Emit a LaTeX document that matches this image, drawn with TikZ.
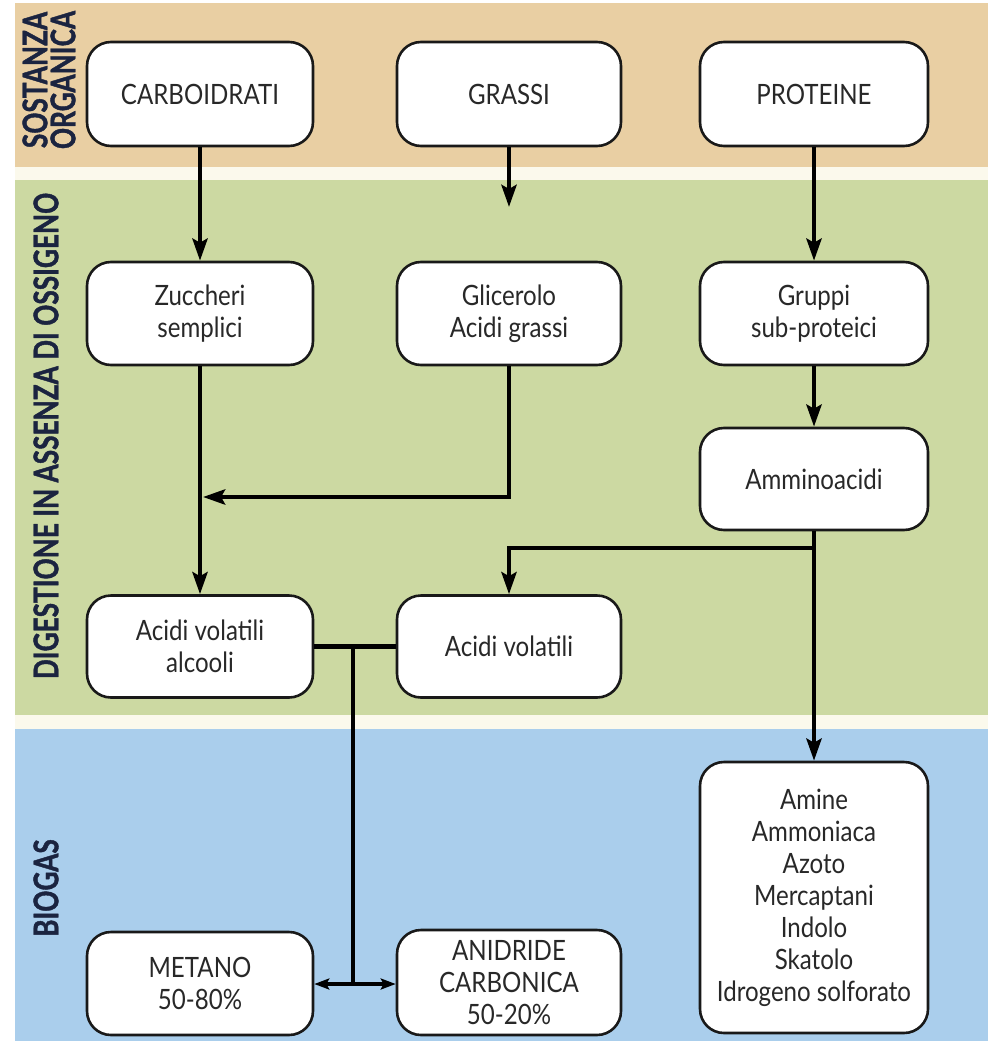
\documentclass[tikz,border=0pt]{standalone}
\usepackage{fontspec}
\setmainfont{Lato}[FakeStretch=0.86]
\newfontfamily\sidefont{Lato}[FakeStretch=0.77, BoldFeatures={FakeBold=1.2}]
\usetikzlibrary{arrows.meta}
\definecolor{tanbg}{RGB}{233,207,163}
\definecolor{greenbg}{RGB}{204,217,162}
\definecolor{bluebg}{RGB}{170,206,236}
\definecolor{stripbg}{RGB}{251,249,236}
\definecolor{navy}{RGB}{27,36,64}
\definecolor{txt}{RGB}{40,40,40}
\tikzset{
  box/.style={draw=black!90, line width=2.6pt, fill=white, rounded corners=24pt,
    inner sep=0pt, align=center, text=txt, font=\fontsize{28}{32}\selectfont},
  conn/.style={line width=4.5pt, black},
  arr/.style={conn, -{Stealth[length=22pt,width=15pt,inset=4pt]}},
  sarr/.style={conn, -{Stealth[length=15pt,width=11pt,inset=3pt]}},
  side/.style={text=navy, font=\sidefont\bfseries\fontsize{34}{28}\selectfont, rotate=90, align=center, inner sep=0pt}
}
\begin{document}
\begin{tikzpicture}[x=1pt,y=-1pt]
\useasboundingbox (0,0) rectangle (988,1041);
\fill[white] (0,0) rectangle (988,1041);
\fill[stripbg] (15,160) rectangle (988,185);
\fill[stripbg] (15,710) rectangle (988,735);
\fill[tanbg] (15,3) rectangle (988,167);
\fill[greenbg] (15,180) rectangle (988,715);
\fill[bluebg] (15,729) rectangle (988,1041);

% side labels
\node[side] (lab1) at (49,80) {SOSTANZA\\ORGANICA};
\node[side] (lab2) at (46,436) {DIGESTIONE IN ASSENZA DI OSSIGENO};
\node[side] (lab3) at (46,888) {BIOGAS};

% row 1
\node[box, minimum width=226pt, minimum height=104pt] (carb) at (200,94) {CARBOIDRATI};
\node[box, minimum width=224pt, minimum height=104pt] (grassi) at (509,94) {GRASSI};
\node[box, minimum width=228pt, minimum height=104pt] (prot) at (814,94) {PROTEINE};
% row 2
\node[box, minimum width=226pt, minimum height=103pt] (zuc) at (200,313.5) {Zuccheri\\semplici};
\node[box, minimum width=224pt, minimum height=103pt] (glic) at (509,313.5) {Glicerolo\\Acidi grassi};
\node[box, minimum width=228pt, minimum height=103pt] (grup) at (814,313.5) {Gruppi\\sub-proteici};
% row 3
\node[box, minimum width=228pt, minimum height=102pt] (ammi) at (814,479) {Amminoacidi};
% row 4
\node[box, minimum width=226pt, minimum height=102pt] (acalc) at (200,646.5) {Acidi volatili\\alcooli};
\node[box, minimum width=224pt, minimum height=102pt] (acvol) at (509,646.5) {Acidi volatili};
% row 5
\node[box, minimum width=228pt, minimum height=271pt] (amine) at (814,897.5) {Amine\\Ammoniaca\\Azoto\\Mercaptani\\Indolo\\Skatolo\\Idrogeno solforato};
\node[box, minimum width=226pt, minimum height=103pt] (metano) at (200,983.5) {METANO\\50-80\%};
\node[box, minimum width=224pt, minimum height=105pt] (anid) at (509,982.5) {ANIDRIDE\\CARBONICA\\50-20\%};

% coordinates
\coordinate (gend) at (509,207);
\coordinate (jl) at (203,497);
\coordinate (ja) at (814,548);
\coordinate (jm) at (353,646.5);
\coordinate (jb) at (353,984);

% connectors
\draw[arr] (carb.south) -- (zuc.north);
\draw[arr] (grassi.south) -- (gend);
\draw[arr] (prot.south) -- (grup.north);
\draw[arr] (zuc.south) -- (acalc.north);
\draw[arr] (glic.south) |- (jl);
\draw[arr] (grup.south) -- (ammi.north);
\draw[arr] (ammi.south) -- (amine.north);
\draw[arr] (ja) -| (acvol.north);
\draw[conn] (acalc.east) -- (acvol.west);
\draw[conn] (jm) -- (jb);
\draw[sarr] (jb) -- (metano.east |- jb);
\draw[sarr] (jb) -- (anid.west |- jb);
\end{tikzpicture}
\end{document}
